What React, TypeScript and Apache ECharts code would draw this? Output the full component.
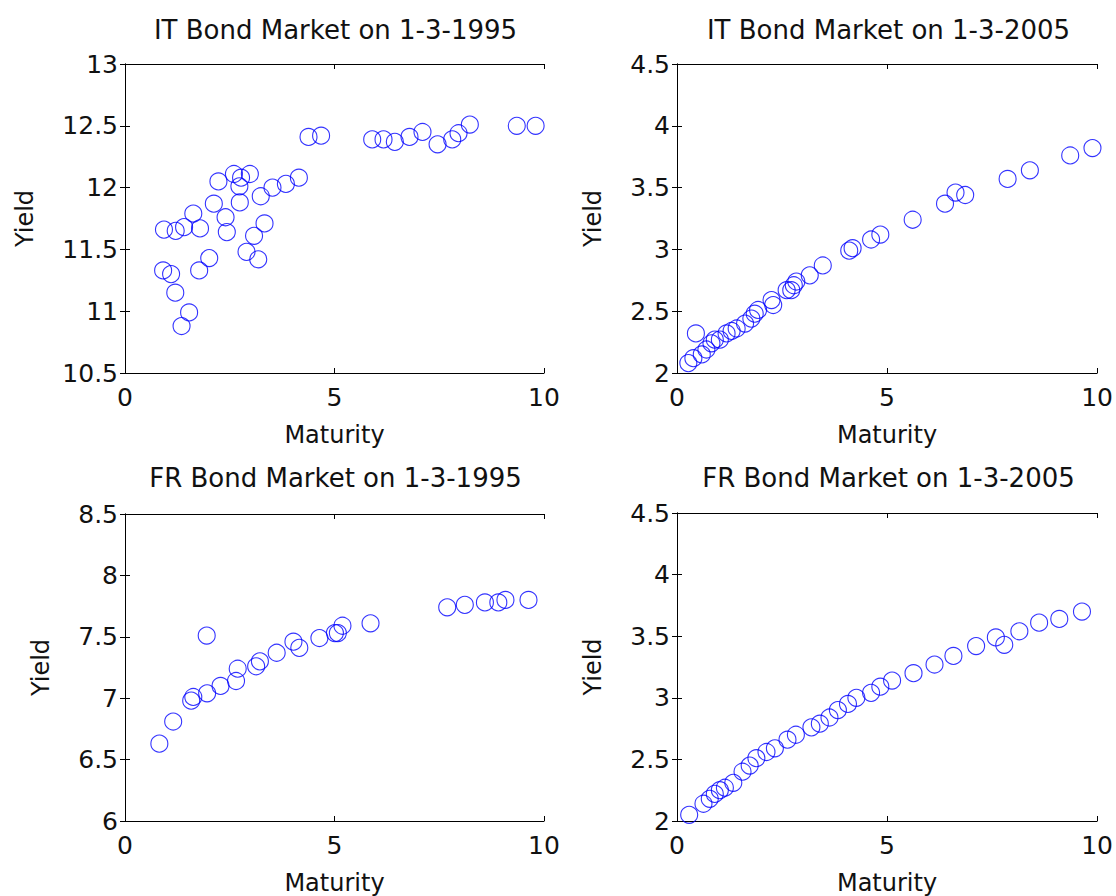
import React, { useEffect, useRef } from "react";
import * as echarts from "echarts";

const panelTitles = [
  "IT Bond Market on 1-3-1995",
  "IT Bond Market on 1-3-2005",
  "FR Bond Market on 1-3-1995",
  "FR Bond Market on 1-3-2005",
];

const xAxisName = "Maturity";
const yAxisName = "Yield";

const itMaturity1995 = [
  0.93, 1.21, 1.41, 1.63, 1.79, 0.91, 1.1, 1.2, 1.53, 1.35, 1.77, 2.01, 2.12, 2.23, 2.4, 2.43,
  2.6, 2.77, 2.73, 2.98, 2.74, 2.9, 3.08, 3.18, 3.33, 3.24, 3.52, 3.84, 4.15, 4.38, 4.68,
  5.9, 6.17, 6.44, 6.79, 7.1, 7.46, 7.81, 7.96, 8.23, 9.35, 9.8,
];
const itYield1995 = [
  11.66, 11.65, 11.68, 11.79, 11.67, 11.33, 11.3, 11.15, 10.99, 10.88, 11.33, 11.43, 11.87, 12.05, 11.76, 11.64,
  12.11, 12.08, 12.01, 12.11, 11.88, 11.48, 11.61, 11.42, 11.71, 11.93, 12.0, 12.03, 12.08, 12.41, 12.42,
  12.39, 12.39, 12.37, 12.41, 12.45, 12.35, 12.39, 12.44, 12.51, 12.5, 12.5,
];

const itMaturity2005 = [
  0.27, 0.39, 0.45, 0.59, 0.7, 0.82, 0.9, 1.02, 1.18, 1.3, 1.42, 1.62, 1.77, 1.85, 1.93, 2.25, 2.29,
  2.61, 2.72, 2.78, 2.84, 3.16, 3.47, 4.1, 4.18, 4.62, 4.84, 5.61, 6.38, 6.63, 6.86, 7.87, 8.4, 9.36, 9.89,
];
const itYield2005 = [
  2.08, 2.12, 2.32, 2.15, 2.19, 2.24, 2.27, 2.27, 2.32, 2.34, 2.36, 2.4, 2.44, 2.48, 2.51, 2.59, 2.55,
  2.67, 2.67, 2.71, 2.74, 2.79, 2.87, 2.99, 3.01, 3.08, 3.12, 3.24, 3.37, 3.46, 3.44, 3.57, 3.64, 3.76, 3.82,
];

const frMaturity1995 = [
  0.82, 1.15, 1.58, 1.63, 1.95, 1.96, 2.28, 2.65, 2.69, 3.13, 3.22, 3.62, 4.02, 4.16, 4.64, 5.01, 5.08,
  5.19, 5.86, 7.69, 8.11, 8.59, 8.91, 9.08, 9.63,
];
const frYield1995 = [
  6.63, 6.81, 6.98, 7.01, 7.51, 7.04, 7.1, 7.14, 7.24, 7.26, 7.3, 7.37, 7.46, 7.41, 7.49, 7.53, 7.53,
  7.59, 7.61, 7.74, 7.76, 7.78, 7.78, 7.8, 7.8,
];

const frMaturity2005 = [
  0.29, 0.63, 0.78, 0.9, 1.02, 1.14, 1.34, 1.56, 1.73, 1.89, 2.13, 2.33, 2.63, 2.83, 3.2, 3.4, 3.63,
  3.83, 4.07, 4.27, 4.62, 4.84, 5.12, 5.63, 6.13, 6.58, 7.12, 7.59, 7.79, 8.15, 8.62, 9.1, 9.64,
];
const frYield2005 = [
  2.05, 2.14, 2.18, 2.22, 2.25, 2.27, 2.31, 2.4, 2.45, 2.51, 2.56, 2.59, 2.66, 2.7, 2.76, 2.79, 2.84,
  2.9, 2.95, 3.0, 3.04, 3.09, 3.14, 3.2, 3.27, 3.34, 3.42, 3.49, 3.43, 3.54, 3.61, 3.64, 3.7,
];

const xRange = [0, 10];
const xTickStep = 5;
const yRanges = [
  [10.5, 13],
  [2, 4.5],
  [6, 8.5],
  [2, 4.5],
];
const yTickStep = 0.5;

const panelData = [
  [itMaturity1995, itYield1995],
  [itMaturity2005, itYield2005],
  [frMaturity1995, frYield1995],
  [frMaturity2005, frYield2005],
];

const FONT = "DejaVu Sans";

export default function App() {
  const ref = useRef<HTMLDivElement>(null);

  useEffect(() => {
    document.body.style.margin = "0";
    const chart = echarts.init(ref.current!, null, { renderer: "svg" });

    const grids = [
      { left: 125, top: 64, width: 419, height: 309 },
      { left: 677, top: 64, width: 421, height: 309 },
      { left: 125, top: 514, width: 419, height: 309 },
      { left: 677, top: 513, width: 421, height: 309 },
    ];
    const yNameGaps = [88, 72, 72, 72];
    const titleY = [30, 30, 478, 478];

    const axisLine = { show: true, lineStyle: { color: "#000", width: 1 } };
    const axisTick = { show: true, inside: true, length: 5, lineStyle: { color: "#000", width: 1 } };
    const labelStyle = { color: "#111", fontSize: 25, fontFamily: FONT };
    const nameStyle = { color: "#111", fontSize: 24, fontFamily: FONT };

    const xAxes: any[] = [];
    const yAxes: any[] = [];
    const series: any[] = [];
    const graphics: any[] = [];

    grids.forEach((g, i) => {
      xAxes.push({
        gridIndex: i,
        type: "value",
        position: "bottom",
        min: xRange[0],
        max: xRange[1],
        interval: xTickStep,
        axisLine,
        axisTick,
        axisLabel: { ...labelStyle, margin: 12 },
        splitLine: { show: false },
        name: xAxisName,
        nameLocation: "middle",
        nameGap: 50,
        nameTextStyle: nameStyle,
      });
      xAxes.push({
        gridIndex: i,
        type: "value",
        position: "top",
        min: xRange[0],
        max: xRange[1],
        interval: xTickStep,
        axisLine,
        axisTick,
        axisLabel: { show: false },
        splitLine: { show: false },
      });
      yAxes.push({
        gridIndex: i,
        type: "value",
        position: "left",
        min: yRanges[i][0],
        max: yRanges[i][1],
        interval: yTickStep,
        axisLine,
        axisTick,
        axisLabel: { ...labelStyle, margin: 7 },
        splitLine: { show: false },
        name: yAxisName,
        nameLocation: "middle",
        nameGap: yNameGaps[i],
        nameTextStyle: nameStyle,
      });
      yAxes.push({
        gridIndex: i,
        type: "value",
        position: "right",
        min: yRanges[i][0],
        max: yRanges[i][1],
        interval: yTickStep,
        axisLine,
        axisTick,
        axisLabel: { show: false },
        splitLine: { show: false },
      });
      const [xs, ys] = panelData[i];
      series.push({
        type: "scatter",
        xAxisIndex: 2 * i,
        yAxisIndex: 2 * i,
        data: xs.map((x, k) => [x, ys[k]]),
        symbol: "circle",
        symbolSize: 17,
        clip: false,
        silent: true,
        itemStyle: { color: "rgba(0,0,0,0)", borderColor: "#0000ff", borderWidth: 1.1 },
      });
      graphics.push({
        type: "text",
        x: g.left + g.width / 2 + 1,
        y: titleY[i],
        style: {
          text: panelTitles[i],
          fill: "#111",
          fontSize: 26,
          fontFamily: FONT,
          align: "center",
          verticalAlign: "middle",
        },
      });
    });

    chart.setOption({
      animation: false,
      backgroundColor: "#fff",
      grid: grids.map((g) => ({ ...g, containLabel: false })),
      xAxis: xAxes,
      yAxis: yAxes,
      series,
      graphic: graphics,
    });

    return () => chart.dispose();
  }, []);

  return <div ref={ref} style={{ width: 1116, height: 896 }} />;
}
